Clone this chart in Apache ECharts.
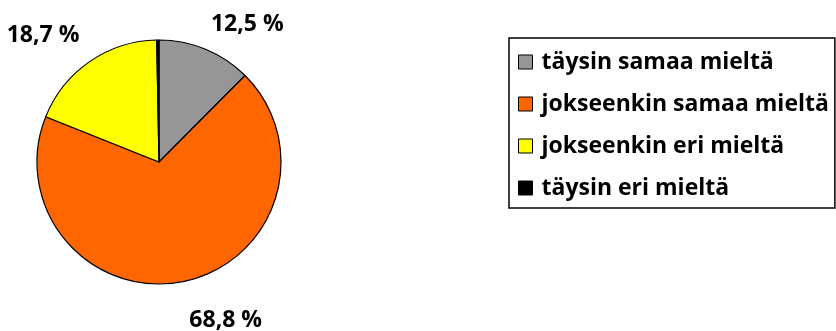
<!DOCTYPE html>
<html>
<head>
<meta charset="utf-8">
<script src="https://cdn.jsdelivr.net/npm/echarts@6/dist/echarts.min.js"></script>
<style>
  html, body { margin: 0; padding: 0; background: #fff; }
  #main { width: 836px; height: 331px; }
</style>
</head>
<body>
<div id="main"></div>
<script>
var categories = ['täysin samaa mieltä', 'jokseenkin samaa mieltä', 'jokseenkin eri mieltä', 'täysin eri mieltä'];
var values = [12.5, 68.8, 18.7, 0.3];
var colors = ['#969696', '#ff6600', '#ffff00', '#000000'];

var myChart = echarts.init(document.getElementById('main'));

var data = categories.map(function (name, i) {
    var item = { name: name, value: values[i], itemStyle: { color: colors[i] } };
    // viimeiselle ei näytetä prosenttia
    if (i === 3) {
        item.label = { show: false };
    }
    // alin ja vasen selite hieman kauemmas
    if (i === 1) {
        item.labelLine = { length: 28 };
    }
    if (i === 2) {
        item.labelLine = { length: 18 };
    }
    return item;
});

var option = {
    animation: false,
    legend: {
        orient: 'vertical',
        left: 509,
        top: 38,
        icon: 'rect',
        itemWidth: 14,
        itemHeight: 14,
        itemGap: 14,
        padding: [10, 6, 6, 9],
        borderColor: '#000',
        borderWidth: 1.5,
        itemStyle: { borderColor: '#000', borderWidth: 1 },
        textStyle: {
            fontFamily: 'Open Sans',
            fontWeight: 'bold',
            fontSize: 23,
            lineHeight: 28,
            color: '#000',
            padding: [0, 0, 0, 4]
        },
        data: categories
    },
    series: [
        {
            type: 'pie',
            center: [159, 162],
            radius: 122,
            startAngle: 90,
            clockwise: true,
            data: data,
            itemStyle: { borderColor: '#000', borderWidth: 1.2 },
            label: {
                show: true,
                position: 'outside',
                overflow: 'none',
                distanceToLabelLine: 0,
                formatter: function (p) {
                    return p.value.toFixed(1).replace('.', ',') + ' %';
                },
                fontFamily: 'Open Sans',
                fontWeight: 'bold',
                fontSize: 23,
                color: '#000'
            },
            labelLine: { show: false, length: 14, length2: 0 },
            // kulma kiinni säteen päässä, kuten Excelissä
            labelLayout: function (params) {
                var pts = params.labelLinePoints;
                var up;
                if (pts && pts.length) {
                    up = pts[pts.length - 1][1] < pts[0][1];
                } else {
                    up = params.labelRect.y + params.labelRect.height / 2 < params.rect.y + params.rect.height / 2;
                }
                return { verticalAlign: up ? 'bottom' : 'top' };
            },
            emphasis: { disabled: true }
        }
    ]
};

myChart.setOption(option);
</script>
</body>
</html>
